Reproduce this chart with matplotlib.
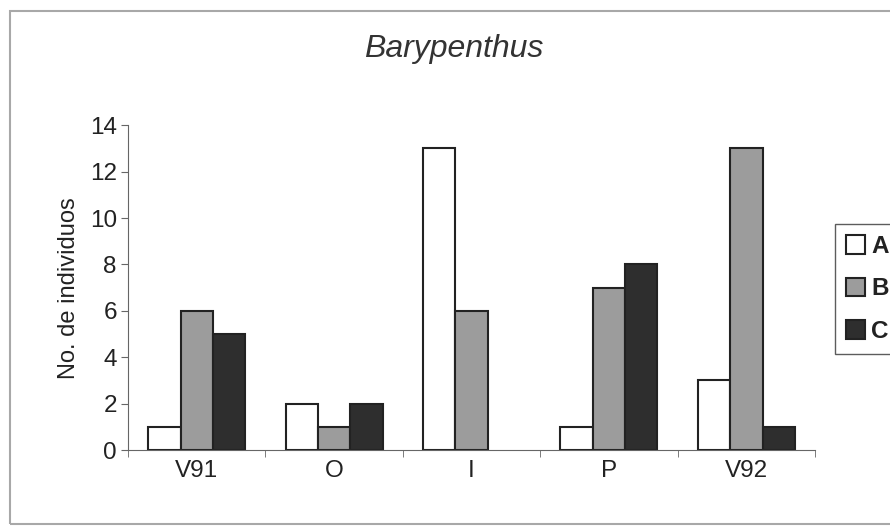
import numpy as np
import matplotlib
matplotlib.use("Agg")
import matplotlib.pyplot as plt
from matplotlib.patches import Rectangle

categories = ["V91", "O", "I", "P", "V92"]
series_names = ["A", "B", "C"]
values_a = [1, 2, 13, 1, 3]
values_b = [6, 1, 6, 7, 13]
values_c = [5, 2, 0, 8, 1]

colors = ["white", "#9c9c9c", "#2e2e2e"]

plt.rcParams['font.family'] = ['Liberation Sans', 'DejaVu Sans']

fig = plt.figure(figsize=(8.9, 5.28), dpi=100)
ax = fig.add_axes([0.1438, 0.1477, 0.772, 0.615])

# outer chart frame (right edge runs off the picture)
fig.patches.append(Rectangle((10 / 890, 4 / 528), 1.0, 1 - 15 / 528, transform=fig.transFigure,
                             fill=False, edgecolor="#a8a8a8", linewidth=1.5))

x = np.arange(len(categories))
width = 0.235
series = [values_a, values_b, values_c]
for i, vals in enumerate(series):
    heights = np.array(vals, dtype=float)
    xs = x + (i - 1) * width
    mask = heights > 0
    ax.bar(xs[mask], heights[mask], width=width, color=colors[i],
           edgecolor="#222222", linewidth=1.5, label=series_names[i])

ax.set_xlim(-0.5, len(categories) - 0.5)
ax.set_ylim(0, 14)
ax.set_yticks(np.arange(0, 15, 2))
ax.set_xticks(x)
ax.set_xticklabels(categories, fontsize=17.5)
ax.set_xticks(np.arange(len(categories) + 1) - 0.5, minor=True)
ax.tick_params(axis="x", which="major", length=0, pad=7)
ax.tick_params(axis="x", which="minor", length=5, direction="out", color="#666666")
ax.tick_params(axis="y", labelsize=17.5, length=5, direction="out", color="#666666", pad=3)
for s in ["top", "right"]:
    ax.spines[s].set_visible(False)
ax.spines["left"].set_color("#666666")
ax.spines["bottom"].set_color("#666666")
for lab in ax.get_xticklabels() + ax.get_yticklabels():
    lab.set_color("#222222")

ax.set_ylabel("No. de individuos", fontsize=17, labelpad=7, color="#222222")
fig.text(454 / 890, 1 - 57 / 528, "Barypenthus", fontsize=23, style="italic",
         ha="center", va="baseline", color="#333333")

leg = fig.legend(loc="upper left", bbox_to_anchor=(835 / 890, 1 - 224 / 528), frameon=True,
                 fontsize=17.5, handlelength=0.8, handleheight=0.8, handletextpad=0.25,
                 labelspacing=0.8, borderpad=0.45, borderaxespad=0, fancybox=False)
leg.get_frame().set_edgecolor("#333333")
for t in leg.get_texts():
    t.set_fontweight("bold")
    t.set_color("#222222")

fig.savefig("out.png", dpi=100)
